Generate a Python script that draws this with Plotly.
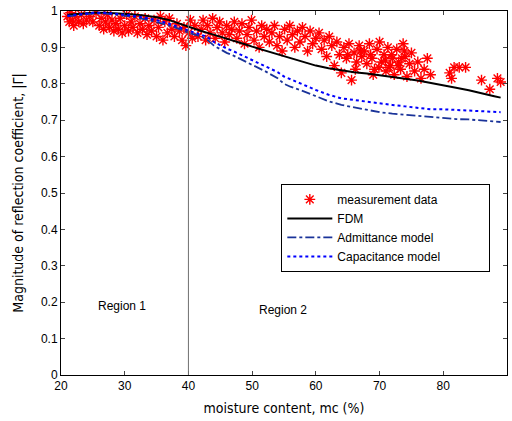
import plotly.graph_objects as go

meas_x = [21.0, 21.3, 21.5, 21.8, 22.0, 22.3, 22.8, 23.2, 23.5, 24.0, 24.5, 25.0, 25.5, 26.0, 26.3, 26.7, 27.0, 27.3,
          27.6, 28.0, 28.3, 28.6, 29.0, 29.3, 29.6, 30.0, 30.3, 30.6, 31.0, 31.3, 31.6, 32.0, 32.4, 32.8, 33.2, 33.5,
          33.8, 34.2, 34.6, 35.0, 35.3, 35.6, 36.0, 36.3, 36.7, 37.0, 37.4, 37.8, 38.2, 38.6, 39.0, 39.3, 39.6, 40.0,
          40.3, 40.6,
          41.0, 41.5, 42.0, 42.3, 42.7, 43.0, 43.4, 43.8, 44.2, 44.5, 44.9, 45.3, 45.7, 46.0, 46.4, 46.8, 47.2, 47.6,
          48.0, 48.4, 48.8, 49.2, 49.5, 49.9, 50.3, 50.7, 51.1, 51.5, 51.9, 52.3, 52.7, 53.1, 53.5, 53.9, 54.3, 54.7,
          55.1, 55.5, 55.9, 56.3, 56.7, 57.1, 57.5, 57.9, 58.3, 58.7, 59.1, 59.5, 60.0, 60.5, 60.9, 61.3, 61.7, 62.1,
          62.5, 62.9, 63.3, 63.7, 64.0, 64.4, 64.8, 65.2, 65.6, 66.0, 66.4, 66.8, 67.2, 67.6, 68.0, 68.4, 68.8, 69.2,
          69.6, 70.0, 70.3, 70.7, 71.0, 71.3, 71.7, 72.0, 72.3, 72.7, 73.0, 73.3, 73.7, 74.0, 74.3, 74.7, 75.0, 75.5,
          76.0, 76.5, 77.0, 77.5, 78.0, 81.0, 81.3, 81.7, 82.5, 83.5, 86.0, 87.3, 88.5, 89.0,
          65.0, 66.2, 67.0, 68.6, 69.9, 70.9, 71.9, 72.9, 73.9, 69.0, 71.5, 73.5]
meas_y = [0.985, 0.970, 0.995, 0.975, 0.960, 0.985, 0.970, 0.990, 0.965, 0.975, 0.985, 0.970, 0.995, 0.960, 0.980,
          0.950, 0.970, 0.990, 0.955, 0.975, 0.945, 0.965, 0.950, 0.980, 0.940, 0.960, 0.990, 0.945, 0.970, 0.955,
          0.985, 0.940, 0.965, 0.950, 0.980, 0.935, 0.960, 0.945, 0.975, 0.930, 0.955, 0.985, 0.920, 0.970, 0.940,
          0.980, 0.950, 0.930, 0.965, 0.945, 0.920, 0.955, 0.905, 0.940, 0.975, 0.925,
          0.960, 0.930, 0.950, 0.975, 0.920, 0.960, 0.940, 0.980, 0.925, 0.955, 0.970, 0.940, 0.915, 0.960, 0.935,
          0.950, 0.970, 0.925, 0.945, 0.965, 0.910, 0.935, 0.955, 0.975, 0.920, 0.945, 0.900, 0.960, 0.930, 0.950,
          0.915, 0.940, 0.960, 0.905, 0.930, 0.890, 0.950, 0.920, 0.960, 0.935, 0.900, 0.945, 0.915, 0.955, 0.930,
          0.890, 0.945, 0.910, 0.925, 0.940, 0.895, 0.920, 0.875, 0.930, 0.905, 0.850, 0.915, 0.880, 0.830, 0.900,
          0.870, 0.910, 0.810, 0.885, 0.860, 0.905, 0.875, 0.890, 0.855, 0.910, 0.870, 0.840, 0.895, 0.915, 0.860,
          0.880, 0.835, 0.900, 0.850, 0.870, 0.825, 0.895, 0.860, 0.840, 0.910, 0.875, 0.820, 0.855, 0.885, 0.835,
          0.860, 0.815, 0.840, 0.870, 0.825, 0.830, 0.815, 0.845, 0.845, 0.845, 0.810, 0.785, 0.815, 0.805,
          0.880, 0.840, 0.890, 0.880, 0.845, 0.865, 0.880, 0.850, 0.890, 0.825, 0.845, 0.870]

model_x = [21, 23, 25, 27, 29, 31, 33, 35, 37, 39, 40, 41, 42, 43, 44, 45, 46, 47, 48, 49, 50, 52, 54, 55, 56, 58,
           60, 62, 64, 66, 68, 70, 72, 74, 76, 78, 80, 82, 84, 86, 88, 89]
fdm_y = [0.990, 0.993, 0.995, 0.995, 0.994, 0.991, 0.988, 0.983, 0.975, 0.963, 0.955, 0.950, 0.945, 0.940, 0.935,
         0.930, 0.924, 0.919, 0.913, 0.908, 0.902, 0.892, 0.881, 0.876, 0.870, 0.860, 0.850, 0.843, 0.837, 0.832,
         0.828, 0.824, 0.819, 0.814, 0.809, 0.803, 0.796, 0.789, 0.782, 0.775, 0.766, 0.762]
adm_y = [0.985, 0.990, 0.993, 0.993, 0.990, 0.985, 0.978, 0.970, 0.960, 0.948, 0.940, 0.935, 0.930, 0.920, 0.905,
         0.895, 0.885, 0.878, 0.870, 0.862, 0.852, 0.835, 0.815, 0.800, 0.792, 0.780, 0.765, 0.752, 0.742, 0.735,
         0.728, 0.722, 0.718, 0.715, 0.710, 0.708, 0.706, 0.703, 0.702, 0.700, 0.698, 0.695]
cap_y = [0.987, 0.992, 0.995, 0.995, 0.992, 0.988, 0.982, 0.975, 0.965, 0.952, 0.945, 0.940, 0.935, 0.928, 0.915,
         0.905, 0.897, 0.890, 0.882, 0.874, 0.865, 0.850, 0.832, 0.820, 0.812, 0.798, 0.783, 0.770, 0.760, 0.755,
         0.750, 0.747, 0.742, 0.738, 0.733, 0.730, 0.730, 0.728, 0.725, 0.724, 0.722, 0.722]

x_ticks = [20, 30, 40, 50, 60, 70, 80, 90]
y_ticks = [0, 0.1, 0.2, 0.3, 0.4, 0.5, 0.6, 0.7, 0.8, 0.9, 1]
y_labels = ["0", "0.1", "0.2", "0.3", "0.4", "0.5", "0.6", "0.7", "0.8", "0.9", "1"]

NB = "\u00a0"
fig = go.Figure()
fig.add_trace(go.Scatter(x=meas_x, y=meas_y, mode="markers", name="measurement data",
                         marker=dict(symbol="asterisk-open", size=9, color="#ff0000",
                                     line=dict(color="#ff0000", width=1.4))))
fig.add_trace(go.Scatter(x=model_x, y=fdm_y, mode="lines", name="FDM",
                         line=dict(color="black", width=2)))
fig.add_trace(go.Scatter(x=model_x, y=adm_y, mode="lines", name="Admittance model",
                         line=dict(color="#1a3399", width=1.8, dash="dashdot")))
fig.add_trace(go.Scatter(x=model_x, y=cap_y, mode="lines", name="Capacitance model" + NB * 13,
                         line=dict(color="#0000ff", width=2, dash="dot")))

fig.add_shape(type="line", x0=40, x1=40, y0=0, y1=1, xref="x", yref="y",
              line=dict(color="#707070", width=1))

fig.add_annotation(x=29.6, y=0.19, text="Region 1", showarrow=False,
                   font=dict(family="Liberation Sans, Arial", size=12, color="black"))
fig.add_annotation(x=54.8, y=0.178, text="Region 2", showarrow=False,
                   font=dict(family="Liberation Sans, Arial", size=12, color="black"))

fig.update_layout(
    width=512, height=421,
    margin=dict(l=61, r=5, t=11, b=46, autoexpand=False),
    plot_bgcolor="white", paper_bgcolor="white",
    font=dict(family="Liberation Sans, Arial", size=12, color="black"),
    showlegend=True,
    legend=dict(x=0.494, y=0.525, xanchor="left", yanchor="top",
                bgcolor="white", bordercolor="black", borderwidth=1,
                font=dict(size=12), tracegroupgap=0, itemwidth=45),
)
fig.update_xaxes(range=[20, 90], tickvals=x_ticks, ticks="inside", ticklen=4, showline=True,
                 linecolor="black", linewidth=1, mirror="ticks", showgrid=False, zeroline=False,
                 automargin=False,
                 title=dict(text="moisture content, mc (%)", standoff=10,
                            font=dict(family="Liberation Sans Narrow, DejaVu Sans Condensed", size=14)))
fig.update_yaxes(range=[0, 1], tickvals=y_ticks, ticktext=y_labels, ticks="inside", ticklen=4, showline=True,
                 linecolor="black", linewidth=1, mirror="ticks", showgrid=False, zeroline=False,
                 automargin=False,
                 title=dict(text="Magnitude of reflection coefficient, |Γ|", standoff=14,
                            font=dict(family="Liberation Sans Narrow, DejaVu Sans Condensed", size=14)))

fig.write_html("out.html", config={"displayModeBar": False},
               post_script="document.body.style.margin='0px';")
